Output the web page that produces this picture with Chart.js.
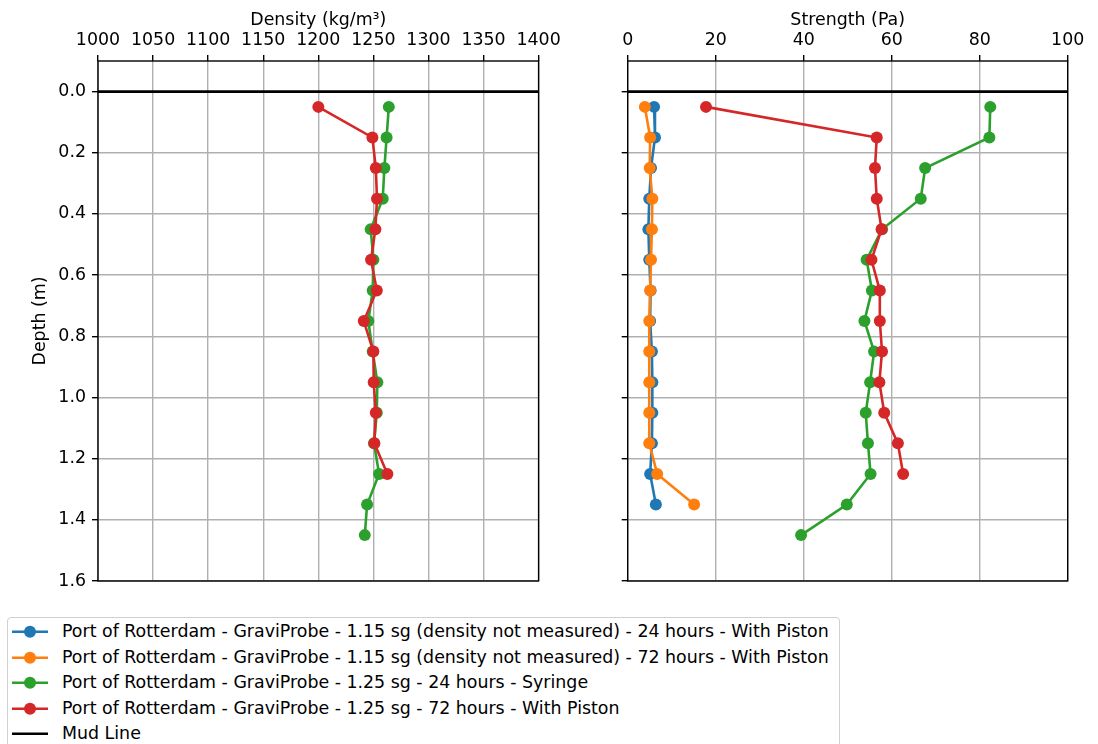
<!DOCTYPE html>
<html>
<head>
<meta charset="utf-8">
<script src="https://cdn.jsdelivr.net/npm/chart.js@4.4.1/dist/chart.umd.min.js"></script>
<style>
  body { margin: 0; background: #fff; font-family: 'DejaVu Sans', sans-serif; }
  #wrap { position: relative; width: 1098px; height: 744px; overflow: hidden; }
  #densityChart { position: absolute; left: 0; top: 0; }
  #strengthChart { position: absolute; left: 580px; top: 0; }
  #legend {
    position: absolute; left: 7px; top: 617px;
    border: 1px solid #d0d0d0; border-radius: 4px;
    padding: 1px 10px 4px 4px; background: #fff;
    font-size: 17.4px; line-height: 25.5px; color: #000;
  }
  #legend .row { display: flex; align-items: center; height: 25.5px; white-space: nowrap; }
  #legend svg { margin-right: 14px; }
</style>
</head>
<body>
<div id="wrap">
  <canvas id="densityChart" width="580" height="600"></canvas>
  <canvas id="strengthChart" width="518" height="600"></canvas>
  <div id="legend"></div>
</div>
<script>
// depths of the samples (m)
const depths = [0.05, 0.15, 0.25, 0.35, 0.45, 0.55, 0.65, 0.75, 0.85, 0.95, 1.05, 1.15, 1.25, 1.35, 1.45];

// density (kg/m3), only the 1.25 sg series were measured
const density125_24h = [1264, 1262, 1260, 1258.5, 1247.6, 1250, 1249.4, 1245.4, 1249.4, 1253.6, 1253.1, 1250.6, 1255.2, 1244.3, 1242.2];
const density125_72h = [1200, 1249.1, 1252.2, 1253.3, 1251.8, 1247.9, 1253.1, 1241.3, 1250, 1250.3, 1252.2, 1250.9, 1262.7];

// strength (Pa)
const strength115_24h = [6.0, 6.2, 5.3, 4.9, 4.7, 4.9, 5.2, 5.1, 5.5, 5.6, 5.6, 5.5, 5.1, 6.4];
const strength115_72h = [3.9, 5.1, 5.0, 5.6, 5.5, 5.3, 5.1, 4.9, 4.9, 4.9, 4.9, 4.9, 6.7, 15.1];
const strength125_24h = [82.4, 82.2, 67.6, 66.6, 57.8, 54.3, 55.5, 53.8, 56.0, 55.1, 54.1, 54.6, 55.2, 49.8, 39.4];
const strength125_72h = [17.8, 56.6, 56.2, 56.6, 57.7, 55.4, 57.3, 57.3, 57.8, 57.2, 58.3, 61.4, 62.6];

const seriesNames = [
  "Port of Rotterdam - GraviProbe - 1.15 sg (density not measured) - 24 hours - With Piston",
  "Port of Rotterdam - GraviProbe - 1.15 sg (density not measured) - 72 hours - With Piston",
  "Port of Rotterdam - GraviProbe - 1.25 sg - 24 hours - Syringe",
  "Port of Rotterdam - GraviProbe - 1.25 sg - 72 hours - With Piston"
];
const seriesColors = ["#1f77b4", "#ff7f0e", "#2ca02c", "#d62728"];

const mudLineDepth = 0;
const densityRange = [1000, 1400];
const strengthRange = [0, 100];
const depthRange = [-0.1, 1.6];

const densityTicks = [1000, 1050, 1100, 1150, 1200, 1250, 1300, 1350, 1400];
const strengthTicks = [0, 20, 40, 60, 80, 100];
const depthTicks = [0.0, 0.2, 0.4, 0.6, 0.8, 1.0, 1.2, 1.4, 1.6];

const FONT = { family: "'DejaVu Sans'", size: 17.4 };
const MARKER = 6;
Chart.defaults.color = '#000';

function toPoints(values) {
  return values.map((v, i) => ({ x: v, y: depths[i] }));
}

function seriesDataset(i, values) {
  return {
    label: seriesNames[i],
    data: toPoints(values),
    showLine: true,
    borderColor: seriesColors[i],
    backgroundColor: seriesColors[i],
    pointBackgroundColor: seriesColors[i],
    borderWidth: 2.6,
    pointRadius: MARKER,
    pointBorderWidth: 0,
    pointHoverRadius: MARKER,
    order: 10 - i
  };
}

function mudDataset(range) {
  return {
    label: "Mud Line",
    data: range.map(x => ({ x: x, y: mudLineDepth })),
    showLine: true,
    borderColor: '#000',
    backgroundColor: '#000',
    borderWidth: 2.6,
    pointRadius: 0,
    order: 1
  };
}

// matplotlib style box around the plot area
const framePlugin = {
  id: 'frame',
  afterDatasetsDraw(chart) {
    const { ctx, chartArea: a } = chart;
    ctx.save();
    ctx.strokeStyle = '#000';
    ctx.lineWidth = 1.4;
    ctx.strokeRect(a.left, a.top, a.right - a.left, a.bottom - a.top);
    ctx.restore();
  }
};

function makeOptions(xTitle, xRange, xTicks, showDepthLabels, axisWidth, rightPad) {
  return {
    responsive: false,
    animation: false,
    events: [],
    layout: { padding: { left: 0, top: 0, right: rightPad, bottom: 19 } },
    plugins: { legend: { display: false }, tooltip: { enabled: false } },
    scales: {
      x: {
        type: 'linear',
        position: 'top',
        min: xRange[0],
        max: xRange[1],
        afterBuildTicks: s => { s.ticks = xTicks.map(v => ({ value: v })); },
        afterFit: s => { s.height = 61; },
        ticks: { font: FONT, padding: 4, maxRotation: 0, autoSkip: false, callback: v => String(v) },
        grid: { color: '#b0b0b0', lineWidth: 1.4, tickColor: '#000', tickLength: 6 },
        border: { display: false },
        title: { display: true, text: xTitle, font: FONT, padding: { top: 10, bottom: 0 } }
      },
      y: {
        type: 'linear',
        reverse: true,
        min: depthRange[0],
        max: depthRange[1],
        afterBuildTicks: s => { s.ticks = depthTicks.map(v => ({ value: v })); },
        afterFit: s => { s.width = axisWidth; },
        ticks: { display: showDepthLabels, font: FONT, padding: 6, callback: v => v.toFixed(1) },
        grid: { color: '#b0b0b0', lineWidth: 1.4, tickColor: '#000', tickLength: 6 },
        border: { display: false },
        title: { display: showDepthLabels, text: 'Depth (m)', font: FONT, padding: { top: 30, bottom: 0 } }
      }
    }
  };
}

new Chart(document.getElementById('densityChart'), {
  type: 'scatter',
  data: {
    datasets: [
      seriesDataset(2, density125_24h),
      seriesDataset(3, density125_72h),
      mudDataset(densityRange)
    ]
  },
  options: makeOptions('Density (kg/m³)', densityRange, densityTicks, true, 98, 41.4),
  plugins: [framePlugin]
});

const strengthChart = new Chart(document.getElementById('strengthChart'), {
  type: 'scatter',
  data: {
    datasets: [
      seriesDataset(0, strength115_24h),
      seriesDataset(1, strength115_72h),
      seriesDataset(2, strength125_24h),
      seriesDataset(3, strength125_72h),
      mudDataset(strengthRange)
    ]
  },
  options: makeOptions('Strength (Pa)', strengthRange, strengthTicks, false, 47.7, 30.3),
  plugins: [framePlugin]
});

// legend built from the strength chart datasets
const legendEl = document.getElementById('legend');
strengthChart.data.datasets.forEach(ds => {
  const row = document.createElement('div');
  row.className = 'row';
  const marker = ds.pointRadius > 0
    ? `<circle cx="18" cy="12.75" r="${ds.pointRadius}" fill="${ds.borderColor}"/>` : '';
  row.innerHTML =
    `<svg width="36" height="25.5"><line x1="0" y1="12.75" x2="36" y2="12.75" stroke="${ds.borderColor}" stroke-width="2.6"/>${marker}</svg>` +
    `<span>${ds.label}</span>`;
  legendEl.appendChild(row);
});
</script>
</body>
</html>
